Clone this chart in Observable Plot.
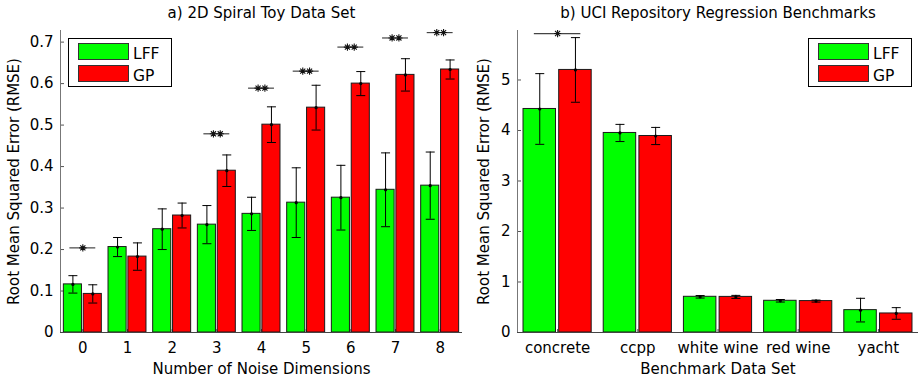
<!DOCTYPE html>
<html>
<head>
<meta charset="utf-8">
<script src="https://cdn.jsdelivr.net/npm/d3@7"></script>
<script src="https://cdn.jsdelivr.net/npm/@observablehq/plot@0.6"></script>
<style>
  body { margin: 0; background: #fff; }
  #wrap { position: relative; width: 921px; height: 379px; display: flex; font-family: "DejaVu Sans", sans-serif; }
  .legend { position: absolute; top: 0; }
</style>
</head>
<body>
<div id="wrap"></div>
<script>
// ---------- data ----------
const noiseDims = ["0", "1", "2", "3", "4", "5", "6", "7", "8"];
const spiralLFF = [0.116, 0.206, 0.249, 0.260, 0.286, 0.313, 0.325, 0.344, 0.354];
const spiralLFFErr = [0.021, 0.023, 0.049, 0.046, 0.040, 0.084, 0.078, 0.089, 0.081];
const spiralGP = [0.093, 0.183, 0.282, 0.390, 0.501, 0.542, 0.600, 0.621, 0.634];
const spiralGPErr = [0.022, 0.033, 0.030, 0.038, 0.043, 0.054, 0.029, 0.039, 0.023];
const spiralSig = ["*", "", "", "**", "**", "**", "**", "**", "**"];
const spiralSigY = [0.204, null, null, 0.479, 0.589, 0.630, 0.688, 0.710, 0.723];

const benchmarks = ["concrete", "ccpp", "white wine", "red wine", "yacht"];
const uciLFF = [4.426, 3.951, 0.707, 0.628, 0.443];
const uciLFFErr = [0.70, 0.17, 0.025, 0.025, 0.234];
const uciGP = [5.199, 3.891, 0.705, 0.622, 0.377];
const uciGPErr = [0.64, 0.17, 0.03, 0.02, 0.115];
const uciSig = ["*", "", "", "", ""];
const uciSigY = [5.92, null, null, null, null];

const seriesNames = ["LFF", "GP"];
const seriesColors = ["#00ff00", "#ff0000"];

// ---------- helpers ----------
const offsets = {LFF: [-0.425, -0.02], GP: [0.02, 0.425]};

function rows(cats, lff, lffErr, gp, gpErr) {
  const out = [];
  cats.forEach((c, i) => {
    out.push({i, series: "LFF", v: lff[i], e: lffErr[i]});
    out.push({i, series: "GP", v: gp[i], e: gpErr[i]});
  });
  return out.map(d => ({...d,
    x1: d.i + offsets[d.series][0],
    x2: d.i + offsets[d.series][1],
    cx: d.i + (offsets[d.series][0] + offsets[d.series][1]) / 2
  }));
}

const capSymbol = {draw(ctx) { ctx.moveTo(-4.5, 0); ctx.lineTo(4.5, 0); }};
const starSymbol = {draw(ctx) {
  const r = 3.6;
  for (const a of [0, Math.PI / 4, Math.PI / 2, 3 * Math.PI / 4]) {
    ctx.moveTo(r * Math.cos(a), r * Math.sin(a));
    ctx.lineTo(-r * Math.cos(a), -r * Math.sin(a));
  }
}};

function sigRows(sig, sigY) {
  const out = [];
  sig.forEach((s, i) => {
    if (!s) return;
    out.push({i, y: sigY[i], n: s.length});
  });
  return out;
}

function panel({cats, data, sig, yDomain, yTicks, yTickFormat, width, marginLeft, marginRight,
                title, xLabel, yLabelOffset}) {
  const singles = sig.filter(s => s.n === 1);
  const doubles = sig.filter(s => s.n === 2);
  const starOpts = {x: "i", y: "y", symbol: starSymbol, stroke: "#111", fill: "none", strokeWidth: 1.1};
  return Plot.plot({
    width, height: 379,
    marginTop: 30, marginBottom: 47, marginLeft, marginRight,
    style: {fontFamily: "DejaVu Sans", fontSize: "15px", color: "#000", background: "#fff"},
    x: {domain: [-0.5, cats.length - 0.5]},
    y: {domain: yDomain},
    marks: [
      Plot.axisX({ticks: cats.map((c, i) => i), tickFormat: i => cats[i], tickSize: -3,
        tickPadding: 13, stroke: "#555", fontSize: 15, label: xLabel, labelAnchor: "center",
        labelArrow: "none", labelOffset: 41}),
      Plot.axisY({ticks: yTicks, tickFormat: yTickFormat, tickSize: -4, tickPadding: 11,
        stroke: "#555", fontSize: 15, label: "Root Mean Squared Error (RMSE)", labelAnchor: "center",
        labelArrow: "none", labelOffset: yLabelOffset}),
      Plot.rectY(data, {x1: "x1", x2: "x2", y1: 0, y2: "v",
        fill: d => seriesColors[seriesNames.indexOf(d.series)], stroke: "#1a1a1a", strokeWidth: 1}),
      Plot.ruleX(data, {x: "cx", y1: d => d.v - d.e, y2: d => d.v + d.e, stroke: "#000", strokeWidth: 1}),
      Plot.dot(data, {x: "cx", y: d => d.v - d.e, symbol: capSymbol, stroke: "#000", fill: "none", strokeWidth: 1}),
      Plot.dot(data, {x: "cx", y: d => d.v + d.e, symbol: capSymbol, stroke: "#000", fill: "none", strokeWidth: 1}),
      Plot.dot(data, {x: "cx", y: "v", r: 1.6, fill: "#000", stroke: "none"}),
      Plot.ruleY(sig, {y: "y", x1: d => d.i - 0.29, x2: d => d.i + 0.29, stroke: "#444", strokeWidth: 1.2}),
      Plot.dot(singles, {...starOpts}),
      Plot.dot(doubles, {...starOpts, dx: -3.4}),
      Plot.dot(doubles, {...starOpts, dx: 3.4}),
      Plot.ruleY([0], {stroke: "#444", strokeWidth: 1.2}),
      Plot.ruleX([-0.5], {y1: yDomain[0], y2: yDomain[1], stroke: "#777", strokeWidth: 1}),
      Plot.text([title], {frameAnchor: "top", lineAnchor: "bottom", dy: -13, fontSize: 15, fill: "#000"})
    ]
  });
}

function legend(left) {
  const ns = "http://www.w3.org/2000/svg";
  const svg = document.createElementNS(ns, "svg");
  svg.setAttribute("width", 106); svg.setAttribute("height", 52);
  svg.setAttribute("class", "legend");
  svg.style.left = (left - 1) + "px"; svg.style.top = "37px";
  const box = document.createElementNS(ns, "rect");
  Object.entries({x: 1.5, y: 1.5, width: 103, height: 48, fill: "#fff", stroke: "#000", "stroke-width": 1})
    .forEach(([k, v]) => box.setAttribute(k, v));
  svg.appendChild(box);
  seriesNames.forEach((name, j) => {
    const r = document.createElementNS(ns, "rect");
    Object.entries({x: 11.5, y: 6.5 + j * 22, width: 50, height: 16, fill: seriesColors[j], stroke: "#333", "stroke-width": 1})
      .forEach(([k, v]) => r.setAttribute(k, v));
    svg.appendChild(r);
    const t = document.createElementNS(ns, "text");
    t.setAttribute("x", 66); t.setAttribute("y", 22 + j * 21.5);
    t.setAttribute("font-family", "DejaVu Sans"); t.setAttribute("font-size", "15.5px");
    t.textContent = name;
    svg.appendChild(t);
  });
  return svg;
}

const wrap = document.getElementById("wrap");
wrap.appendChild(panel({
  cats: noiseDims,
  data: rows(noiseDims, spiralLFF, spiralLFFErr, spiralGP, spiralGPErr),
  sig: sigRows(spiralSig, spiralSigY),
  yDomain: [0, 0.728], yTicks: [0, 0.1, 0.2, 0.3, 0.4, 0.5, 0.6, 0.7],
  yTickFormat: d => d === 0 ? "0" : d3.format(".1f")(d),
  width: 464, marginLeft: 60, marginRight: 2,
  title: "a) 2D Spiral Toy Data Set", xLabel: "Number of Noise Dimensions", yLabelOffset: 52
}));
wrap.appendChild(panel({
  cats: benchmarks,
  data: rows(benchmarks, uciLFF, uciLFFErr, uciGP, uciGPErr),
  sig: sigRows(uciSig, uciSigY),
  yDomain: [0, 5.98], yTicks: [0, 1, 2, 3, 4, 5],
  yTickFormat: d => String(d),
  width: 457, marginLeft: 53, marginRight: 3,
  title: "b) UCI Repository Regression Benchmarks", xLabel: "Benchmark Data Set", yLabelOffset: 39
}));
wrap.appendChild(legend(68));
wrap.appendChild(legend(808));
</script>
</body>
</html>
